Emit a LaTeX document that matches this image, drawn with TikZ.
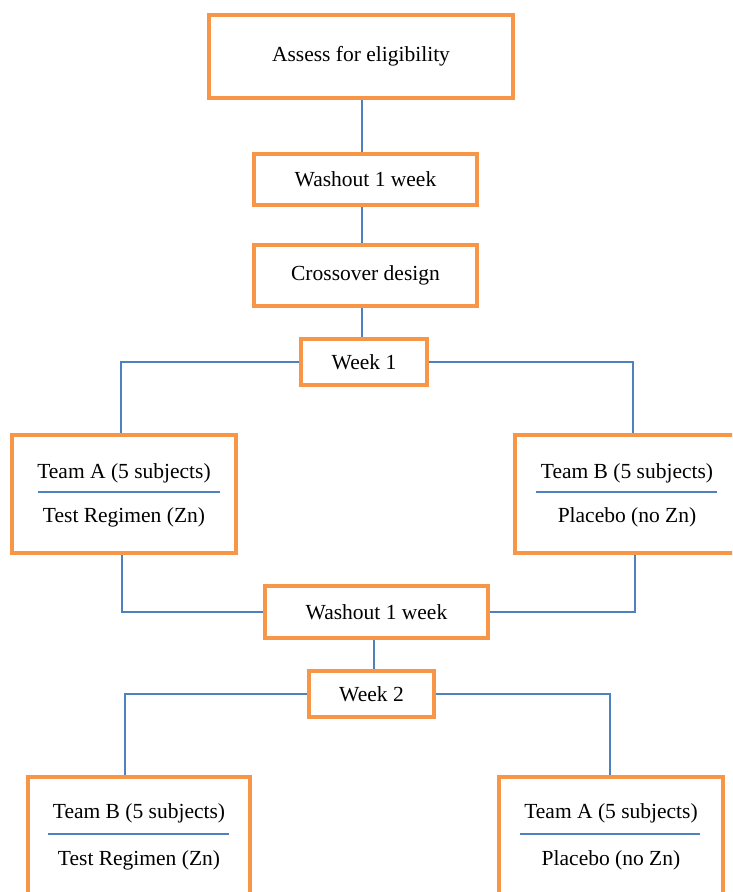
\documentclass[tikz,border=0pt]{standalone}
\usepackage{fontspec}
\setmainfont{Liberation Serif}
\usetikzlibrary{calc}
\definecolor{boxorange}{RGB}{247,150,70}
\definecolor{lineblue}{RGB}{79,129,189}
\tikzset{
  stagebox/.style={draw=boxorange, line width=4pt, rectangle, inner sep=0pt, align=center, font=\fontsize{21.5}{26}\selectfont},
  teamtext/.style={inner sep=0pt, font=\fontsize{21.5}{26}\selectfont},
  link/.style={draw=lineblue, line width=1.1pt},
  sepline/.style={draw=lineblue, line width=1.1pt},
}
\begin{document}
\begin{tikzpicture}[x=1pt,y=1pt,yscale=-1]
\clip (0,0) rectangle (732,892);

%Shape: main column
\node[stagebox, minimum width=304, minimum height=83] (assess) at (361,56) {Assess for eligibility};
\node[stagebox, minimum width=223, minimum height=51] (wash1) at (365.5,179.5) {Washout 1 week};
\node[stagebox, minimum width=223, minimum height=61] (cross) at (365.5,275) {Crossover design};
\node[stagebox, minimum width=126, minimum height=46] (week1) at (364,362) {Week 1};

%Shape: first period
\node[stagebox, minimum width=224, minimum height=118] (teamA1) at (124,494) {};
\node[stagebox, minimum width=224, minimum height=118] (teamB1) at (627,494) {};

\node[stagebox, minimum width=223, minimum height=52] (wash2) at (376.5,612) {Washout 1 week};
\node[stagebox, minimum width=125, minimum height=46] (week2) at (371.5,694) {Week 2};

%Shape: second period
\node[stagebox, minimum width=222, minimum height=118] (teamB2) at (139,836) {};
\node[stagebox, minimum width=224, minimum height=118] (teamA2) at (611,836) {};

% Text Node
\node[teamtext] (teamA1top) at ($(teamA1)+(0,-21)$) {Team A (5 subjects)};
\node[teamtext] (teamA1bot) at ($(teamA1)+(0,23)$) {Test Regimen (Zn)};
\node[teamtext] (teamB1top) at ($(teamB1)+(0,-21)$) {Team B (5 subjects)};
\node[teamtext] (teamB1bot) at ($(teamB1)+(0,23)$) {Placebo (no Zn)};
\node[teamtext] (teamB2top) at ($(teamB2)+(0,-23)$) {Team B (5 subjects)};
\node[teamtext] (teamB2bot) at ($(teamB2)+(0,24)$) {Test Regimen (Zn)};
\node[teamtext] (teamA2top) at ($(teamA2)+(0,-23)$) {Team A (5 subjects)};
\node[teamtext] (teamA2bot) at ($(teamA2)+(0,24)$) {Placebo (no Zn)};

%Straight Lines: separators
\draw[sepline] ($(teamA1)+(-86,-2)$) -- ($(teamA1)+(96,-2)$);
\draw[sepline] ($(teamB1)+(-91,-2)$) -- ($(teamB1)+(90,-2)$);
\draw[sepline] ($(teamB2)+(-91,-2)$) -- ($(teamB2)+(90,-2)$);
\draw[sepline] ($(teamA2)+(-91,-2)$) -- ($(teamA2)+(89,-2)$);

%Straight Lines: connectors
\draw[link] ([xshift=1pt]assess.south) -- ([xshift=1pt]assess.south |- wash1.north);
\draw[link] ([xshift=1pt]assess.south |- wash1.south) -- ([xshift=1pt]assess.south |- cross.north);
\draw[link] ([xshift=1pt]assess.south |- cross.south) -- ([xshift=1pt]assess.south |- week1.north);
\draw[link] (week1.west) -| ([xshift=-3pt]teamA1.north);
\draw[link] (week1.east) -| ([xshift=6pt]teamB1.north);
\draw[link] ([xshift=-2pt]teamA1.south) |- (wash2.west);
\draw[link] ([xshift=8pt]teamB1.south) |- (wash2.east);
\draw[link] ([xshift=-2.5pt]wash2.south) -- ([xshift=-2.5pt]wash2.south |- week2.north);
\draw[link] (week2.west) -| ([xshift=-14pt]teamB2.north);
\draw[link] (week2.east) -| ([xshift=-1pt]teamA2.north);

\end{tikzpicture}
\end{document}
